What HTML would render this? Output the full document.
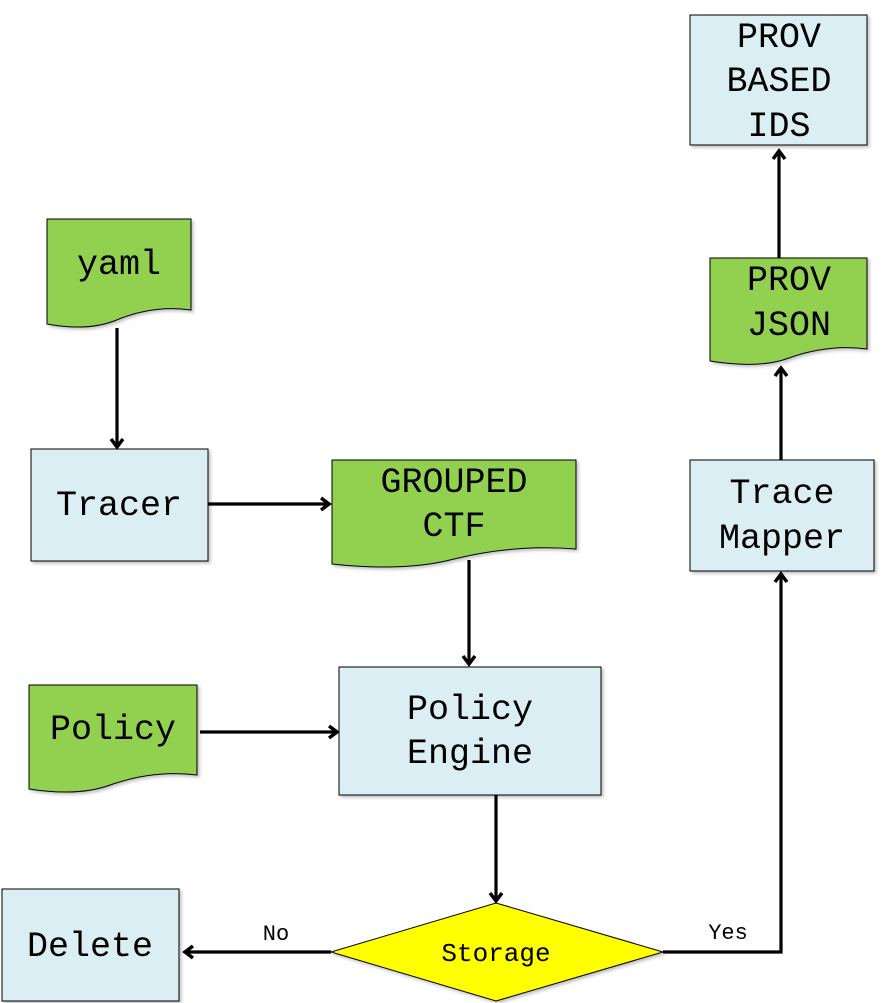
<!DOCTYPE html>
<html><head><meta charset="utf-8"><style>
html,body{margin:0;padding:0;background:#fff}
svg{display:block}
text{font-family:"Liberation Mono","Courier New",monospace;fill:#000;text-anchor:middle}
</style></head><body>
<svg width="883" height="1003" viewBox="0 0 883 1003" xmlns="http://www.w3.org/2000/svg">
<defs>
<filter id="sh" x="-10%" y="-10%" width="130%" height="130%"><feDropShadow dx="2" dy="2" stdDeviation="1.5" flood-color="#000" flood-opacity="0.25"/></filter>
<marker id="ar" markerWidth="16" markerHeight="16" refX="12" refY="8" orient="auto" markerUnits="userSpaceOnUse"><path d="M4,2 L12,8 L4,14" fill="none" stroke="#000" stroke-width="3.5"/></marker>
</defs>
<g stroke="#000" stroke-width="1" filter="url(#sh)">
<rect x="690" y="15" width="177" height="130" fill="#DAEEF3"/>
<rect x="31" y="449" width="177" height="112" fill="#DAEEF3"/>
<rect x="690" y="460" width="184" height="111" fill="#DAEEF3"/>
<rect x="339" y="667" width="262" height="128" fill="#DAEEF3"/>
<rect x="2" y="889" width="177" height="112" fill="#DAEEF3"/>
<path d="M710,258 H867 V349 Q828,344 789,358 Q760,369 710,361 Z" fill="#92D050"/>
<path d="M47,219 H191 V310 Q155,305 119,319 Q90,332 47,324 Z" fill="#92D050"/>
<path d="M332,460 H576 V549 Q515,544 454,559 Q405,572 332,564 Z" fill="#92D050"/>
<path d="M29,685 H197 V775 Q155,770 113,784 Q80,797 29,789 Z" fill="#92D050"/>
<path d="M331,952 L496,903 L663,952 L496,1001 Z" fill="#FFFF00"/>
</g>
<g stroke="#000" stroke-width="3.2" fill="none" marker-end="url(#ar)">
<line x1="117" y1="328" x2="117" y2="447"/>
<line x1="208" y1="504" x2="329" y2="504"/>
<line x1="469" y1="560" x2="469" y2="664"/>
<line x1="200" y1="732" x2="337" y2="732"/>
<line x1="496" y1="795" x2="496" y2="901"/>
<line x1="331" y1="952" x2="185" y2="952"/>
<polyline points="663,952 781,952 781,574"/>
<line x1="781" y1="460" x2="781" y2="368"/>
<line x1="779" y1="258" x2="779" y2="151"/>
</g>
<g font-size="35">
<text x="779" y="47">PROV</text>
<text x="779" y="91">BASED</text>
<text x="779" y="136">IDS</text>
<text x="789" y="290">PROV</text>
<text x="789" y="335">JSON</text>
<text x="119" y="274">yaml</text>
<text x="119" y="515">Tracer</text>
<text x="454" y="492">GROUPED</text>
<text x="454" y="536">CTF</text>
<text x="782" y="503">Trace</text>
<text x="782" y="548">Mapper</text>
<text x="113" y="739">Policy</text>
<text x="470" y="719">Policy</text>
<text x="470" y="763">Engine</text>
<text x="90" y="956">Delete</text>
</g>
<text x="496" y="961" font-size="26">Storage</text>
<text x="276" y="940" font-size="22">No</text>
<text x="728" y="939" font-size="22">Yes</text>
</svg>
</body></html>
